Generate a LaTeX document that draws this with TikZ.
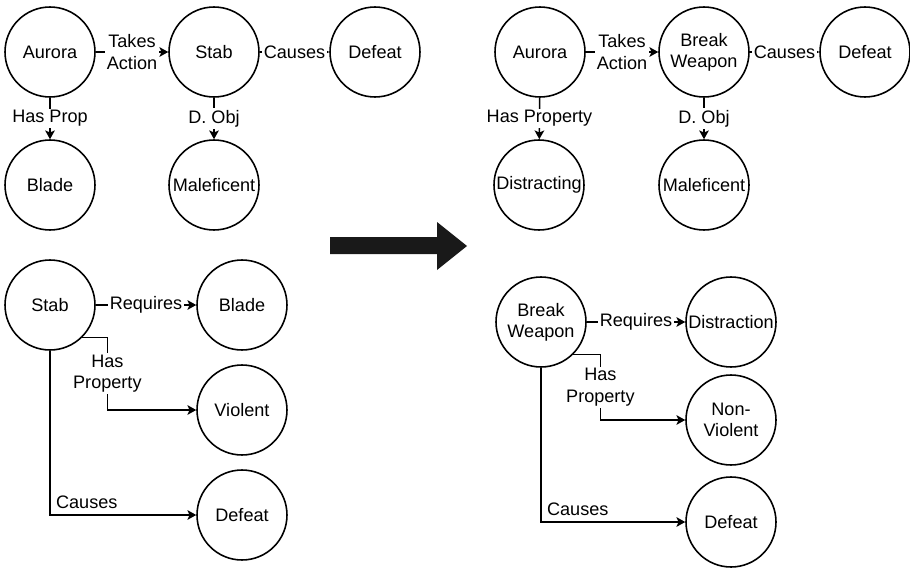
\documentclass[tikz,border=0pt]{standalone}
\usepackage{fontspec}
\setmainfont{Liberation Sans}
\usetikzlibrary{positioning,calc,arrows.meta}

\tikzset{
  ent/.style={draw,circle,line width=0.9pt,minimum size=1.8cm,inner sep=0pt,align=center},
  link/.style={line width=0.9pt,-{Stealth[length=5pt,width=5.5pt,inset=1.2pt]}},
  rel/.style={fill=white,inner sep=1pt,align=center},
}

\begin{document}
\begin{tikzpicture}[x=0.02cm,y=-0.02cm,font=\fontsize{10.3}{12}\selectfont]
  \useasboundingbox (0,0) rectangle (910,568);
  % before
  \node[ent] (aurA) at (50,52) {Aurora};
  \node[ent] (stabA) at (214,52) {Stab};
  \node[ent] (defA) at (375,52) {Defeat};
  \node[ent] (bladeA) at (50,185) {Blade};
  \node[ent] (malA) at (214,185) {Maleficent};
  \draw[link] (aurA) -- node[rel] {Takes\\Action} (stabA);
  \draw[link] (stabA) -- node[rel] {Causes} (defA);
  \draw[link] (aurA) -- node[rel] {Has Prop} (bladeA);
  \draw[link] (stabA) -- node[rel] {D. Obj} (malA);

  \node[ent] (stabC) at (50,305) {Stab};
  \node[ent] (bladeC) at (242,305) {Blade};
  \node[ent] (violC) at (242,410) {Violent};
  \node[ent] (defC) at (242,515) {Defeat};
  \draw[link] (stabC) -- node[rel] {Requires} (bladeC);
  \draw[link] (stabC.-45) -- ++(25,0) |- node[rel,pos=0.25] {Has\\Property} (violC.west);
  \draw[link] (stabC) |- node[pos=0.5,anchor=south west,inner sep=3pt] {Causes} (defC.west);

  % big arrow
  \fill[black!90] (330,237) -- (437,237) -- (437,222) -- (467,246)
                  -- (437,270) -- (437,254) -- (330,254) -- cycle;

  % after
  \node[ent] (aurB) at (540,52) {Aurora};
  \node[ent] (brkB) at (704,52) {Break\\Weapon};
  \node[ent] (defB) at (865,52) {Defeat};
  \node[ent] (disB) at (539,185) {Distracting};
  \node[ent] (malB) at (704,185) {Maleficent};
  \draw[link] (aurB) -- node[rel] {Takes\\Action} (brkB);
  \draw[link] (brkB) -- node[rel] {Causes} (defB);
  \draw[link] (aurB) -- node[rel] {Has Property} (disB);
  \draw[link] (brkB) -- node[rel] {D. Obj} (malB);

  \node[ent] (brkD) at (541,322) {Break\\Weapon};
  \node[ent] (distD) at (731,322) {Distraction};
  \node[ent] (nvD) at (731,420) {Non-\\Violent};
  \node[ent] (defD) at (731,522) {Defeat};
  \draw[link] (brkD) -- node[rel] {Requires} (distD);
  \draw[link] (brkD.-45) -- ++(27,0) |- node[rel,pos=0.25] {Has\\Property} (nvD.west);
  \draw[link] (brkD) |- node[pos=0.5,anchor=south west,inner sep=3pt] {Causes} (defD.west);
\end{tikzpicture}
\end{document}
